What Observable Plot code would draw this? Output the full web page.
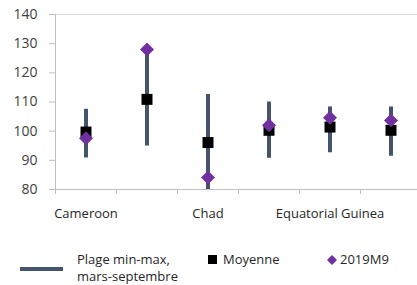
<!DOCTYPE html>
<html>
<head>
<meta charset="utf-8">
<script src="https://cdn.jsdelivr.net/npm/d3@7"></script>
<script src="https://cdn.jsdelivr.net/npm/@observablehq/plot@0.6"></script>
<style>
  html, body { margin: 0; padding: 0; background: #fff; }
  body { width: 417px; height: 285px; overflow: hidden; position: relative; font-family: "Open Sans", sans-serif; color: #262626; }
  #chart { position: absolute; left: 0; top: 0; }
  .lg { position: absolute; font-size: 13px; line-height: 17px; color: #262626; white-space: nowrap; }
</style>
</head>
<body>
<div id="chart"></div>
<div class="lg" style="left:20px;top:267px;width:43px;height:4px;background:#44546A"></div>
<div class="lg" style="left:77px;top:251px;">Plage min-max,<br>mars-septembre</div>
<div class="lg" style="left:208px;top:255px;width:9px;height:9px;background:#000"></div>
<div class="lg" style="left:223px;top:251px;">Moyenne</div>
<svg class="lg" style="left:326px;top:254px;" width="12" height="12"><path d="M6,1L11,6L6,11L1,6Z" fill="#7030A0"/></svg>
<div class="lg" style="left:340px;top:251px;">2019M9</div>
<script>
const categories = ["Cameroon", "Central African Republic", "Chad", "Congo", "Equatorial Guinea", "Gabon"];
const minVals  = [90.8, 94.9, 80.0, 90.7, 92.6, 91.4];
const maxVals  = [107.5, 128.0, 112.6, 110.0, 108.3, 108.3];
const meanVals = [99.7, 110.9, 96.1, 100.3, 101.4, 100.3];
const lastVals = [97.6, 128.0, 84.1, 102.0, 104.6, 103.7];
const yTicks = [80, 90, 100, 110, 120, 130, 140];
const xLabels = ["Cameroon", "", "Chad", "", "Equatorial Guinea", ""];

const data = categories.map((c, i) => ({cat: c, min: minVals[i], max: maxVals[i], mean: meanVals[i], last: lastVals[i], label: xLabels[i]}));

const chart = Plot.plot({
  width: 417,
  height: 230,
  marginTop: 14,
  marginBottom: 41,
  marginLeft: 55,
  marginRight: 0,
  style: {fontFamily: "Open Sans, sans-serif", fontSize: "13px", color: "#404040", background: "#fff"},
  x: {type: "band", domain: categories, range: [55, 421], padding: 0, axis: null},
  y: {domain: [80, 140], axis: null},
  marks: [
    Plot.ruleY([140], {stroke: "#d9d9d9", strokeWidth: 1}),
    Plot.ruleX(categories.slice(0, 1), {x: d => d, dx: -30.5, stroke: "#bfbfbf"}),
    Plot.ruleY([80], {stroke: "#bfbfbf"}),
    Plot.ruleX(categories, {x: d => d, dx: -30.5, y1: 80, y2: 80, insetBottom: -5, stroke: "#bfbfbf"}),
    Plot.axisY({ticks: yTicks, tickSize: 6, tickPadding: 12, stroke: "#bfbfbf", fill: "#404040", fontSize: 14, tickFormat: d => d}),
    Plot.text(data, {x: "cat", y: 80, text: "label", dy: 24, fill: "#262626", fontSize: 13}),
    Plot.ruleX(data, {x: "cat", y1: "min", y2: "max", stroke: "#44546A", strokeWidth: 4}),
    Plot.dot(data, {x: "cat", y: "mean", symbol: "square", r: 6.2, fill: "#000", stroke: "none"}),
    Plot.dot(data, {x: "cat", y: "last", symbol: "diamond2", r: 6.3, fill: "#7030A0", stroke: "none"})
  ]
});
document.getElementById("chart").appendChild(chart);
</script>
</body>
</html>
